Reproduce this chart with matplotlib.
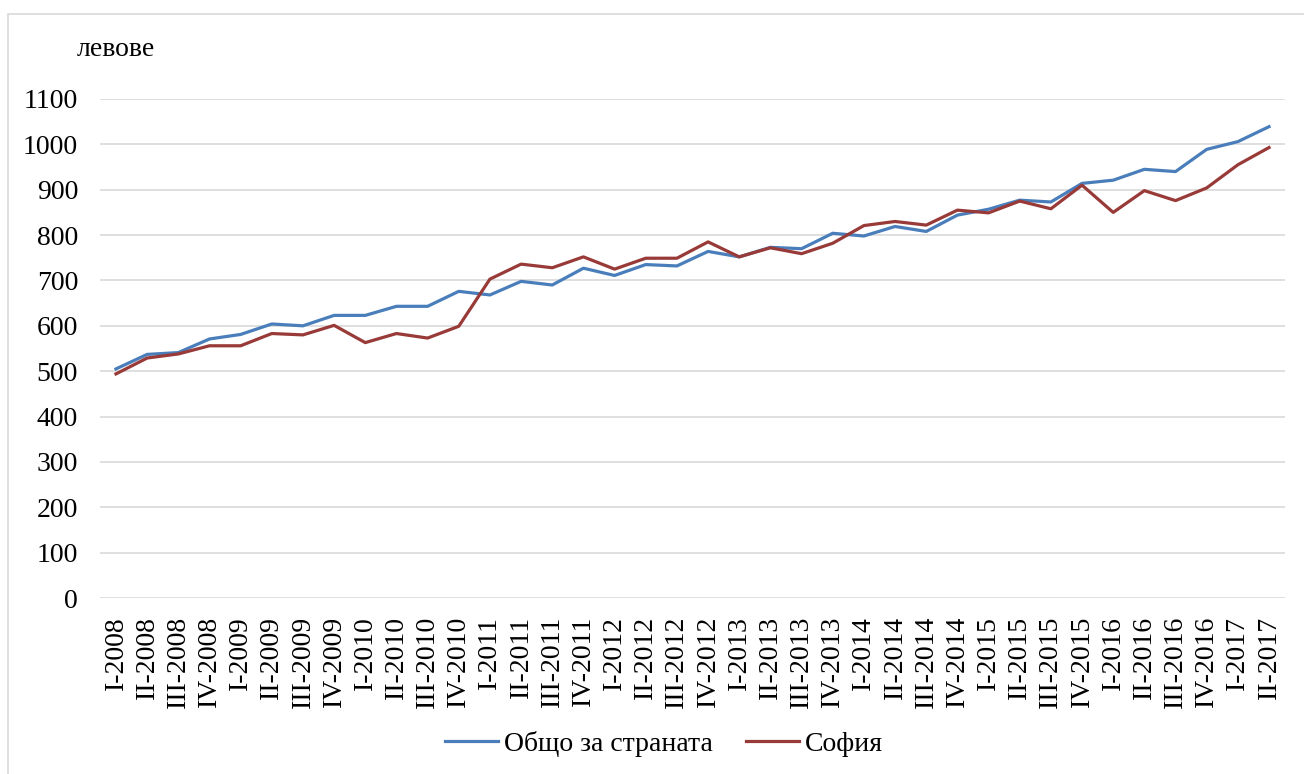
import matplotlib
matplotlib.use("Agg")
import matplotlib.pyplot as plt
from matplotlib.patches import Rectangle

categories = [
    "I-2008", "II-2008", "III-2008", "IV-2008",
    "I-2009", "II-2009", "III-2009", "IV-2009",
    "I-2010", "II-2010", "III-2010", "IV-2010",
    "I-2011", "II-2011", "III-2011", "IV-2011",
    "I-2012", "II-2012", "III-2012", "IV-2012",
    "I-2013", "II-2013", "III-2013", "IV-2013",
    "I-2014", "II-2014", "III-2014", "IV-2014",
    "I-2015", "II-2015", "III-2015", "IV-2015",
    "I-2016", "II-2016", "III-2016", "IV-2016",
    "I-2017", "II-2017",
]

country = [
    505, 537, 541, 571, 581, 604, 600, 623,
    623, 643, 643, 676, 668, 698, 690, 727,
    711, 735, 732, 764, 752, 773, 770, 804,
    798, 819, 808, 844, 857, 877, 873, 914,
    921, 945, 940, 989, 1006, 1039,
]

sofia = [
    494, 529, 538, 556, 556, 583, 580, 601,
    563, 583, 573, 599, 703, 736, 728, 752,
    725, 749, 749, 785, 752, 772, 759, 782,
    821, 830, 822, 855, 849, 875, 858, 910,
    850, 898, 876, 904, 955, 993,
]

series_names = ["Общо за страната", "София"]
y_ticks = list(range(0, 1101, 100))
y_unit = "левове"

plt.rcParams['font.family'] = ['Liberation Serif', 'DejaVu Serif']
FS = 20

W, H = 1304, 774
fig = plt.figure(figsize=(W / 100, H / 100), dpi=100)

# outer border
fig.patches.append(Rectangle((8 / W, -0.05), 1.1, (H - 14) / H + 0.05,
                             transform=fig.transFigure, fill=False,
                             edgecolor='#D9D9D9', linewidth=1.2))

left, right = 100.4 / W, 1284.6 / W
bottom, top = 1 - 598 / H, 1 - 99 / H
ax = fig.add_axes([left, bottom, right - left, top - bottom])

x = list(range(len(categories)))
ax.plot(x, country, color='#4A7EBB', linewidth=2.3, label=series_names[0],
        solid_joinstyle='round')
ax.plot(x, sofia, color='#983A38', linewidth=2.3, label=series_names[1],
        solid_joinstyle='round')

ax.set_xlim(-0.5, len(categories) - 0.5)
ax.set_ylim(0, 1100)
ax.set_yticks(y_ticks)
ax.set_yticklabels([str(v) for v in y_ticks], fontsize=FS)
ax.set_xticks(x)
ax.set_xticklabels(categories, rotation=90, fontsize=FS, va='top', ha='center')
ax.tick_params(axis='both', length=0)
ax.tick_params(axis='y', pad=16)
ax.tick_params(axis='x', pad=13)

ax.grid(axis='y', color='#D9D9D9', linewidth=1.2)
ax.set_axisbelow(True)
for s in ax.spines.values():
    s.set_visible(False)

fig.text(77 / W, 1 - 49 / H, y_unit, fontsize=FS, ha='left', va='center')

leg = fig.legend(loc='center', bbox_to_anchor=(664 / W, 1 - 744 / H),
                 ncol=2, frameon=False, fontsize=FS, handlelength=1.9,
                 handletextpad=0.22, columnspacing=1.2)

fig.savefig("out.png", dpi=100)
